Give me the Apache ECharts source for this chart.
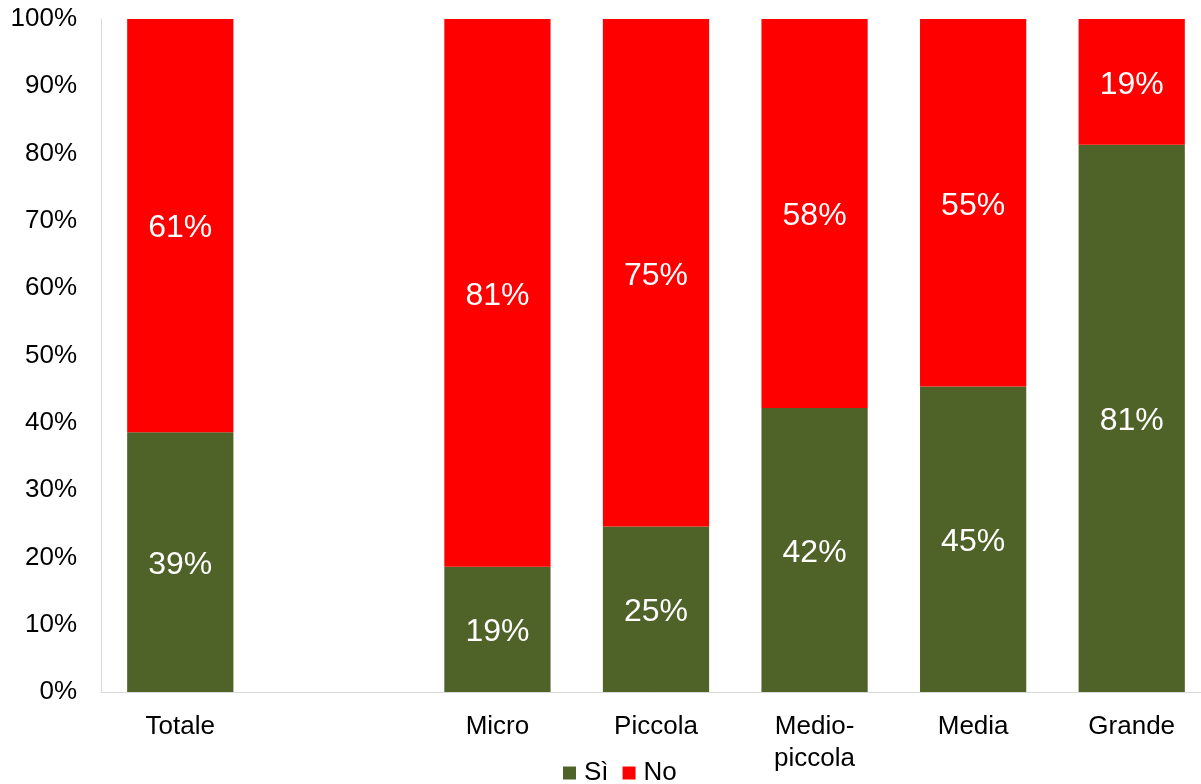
<!DOCTYPE html>
<html>
<head>
<meta charset="utf-8">
<script src="https://cdn.jsdelivr.net/npm/echarts@6/dist/echarts.min.js"></script>
<style>
  html, body { margin: 0; padding: 0; background: #fff; }
  #chart { width: 1201px; height: 784px; }
</style>
</head>
<body>
<div id="chart"></div>
<script>
// categories (the empty one is the gap after "Totale")
const categories = ['Totale', '', 'Micro', 'Piccola', 'Medio-\npiccola', 'Media', 'Grande']
// share of "Sì" / "No" in percent
const siValues = [38.6, null, 18.6, 24.6, 42.2, 45.4, 81.3]
const noValues = [61.4, null, 81.4, 75.4, 57.8, 54.6, 18.7]
const yTicks = [0, 10, 20, 30, 40, 50, 60, 70, 80, 90, 100]

const green = '#4f6228'
const red = '#ff0000'
const font = 'Liberation Sans, Arial, sans-serif'

const chart = echarts.init(document.getElementById('chart'))

const barLabel = {
  show: true,
  position: 'inside',
  offset: [0, 3],
  color: '#fff',
  fontSize: 32,
  fontFamily: font,
  formatter: (p) => Math.round(p.value) + '%'
}

chart.setOption({
  animation: false,
  // plot runs a little past the right edge, like the original
  grid: { left: 101, width: 1110, top: 19, bottom: 92, outerBoundsMode: 'none' },
  legend: {
    top: 755,
    left: 558,
    itemWidth: 13,
    itemHeight: 13,
    itemGap: 14,
    icon: 'rect',
    textStyle: { fontSize: 26, fontFamily: font, color: '#000', padding: [0, 0, 0, 3] },
    data: ['Sì', 'No']
  },
  xAxis: {
    type: 'category',
    data: categories,
    axisLine: { lineStyle: { color: '#d9d9d9', width: 1 } },
    axisTick: { show: false },
    axisLabel: { fontSize: 26, fontFamily: font, color: '#000', margin: 19, lineHeight: 32, interval: 0 }
  },
  yAxis: {
    type: 'value',
    min: yTicks[0],
    max: yTicks[yTicks.length - 1],
    interval: 10,
    splitLine: { show: false },
    axisLine: { show: true, lineStyle: { color: '#d9d9d9', width: 1 } },
    axisTick: { show: false },
    axisLabel: { fontSize: 26, fontFamily: font, color: '#000', margin: 24, formatter: '{value}%' }
  },
  series: [
    {
      name: 'Sì',
      type: 'bar',
      stack: 'tot',
      barWidth: '67%',
      itemStyle: { color: green },
      label: barLabel,
      data: siValues
    },
    {
      name: 'No',
      type: 'bar',
      stack: 'tot',
      barWidth: '67%',
      itemStyle: { color: red },
      label: barLabel,
      data: noValues
    }
  ]
})
</script>
</body>
</html>
